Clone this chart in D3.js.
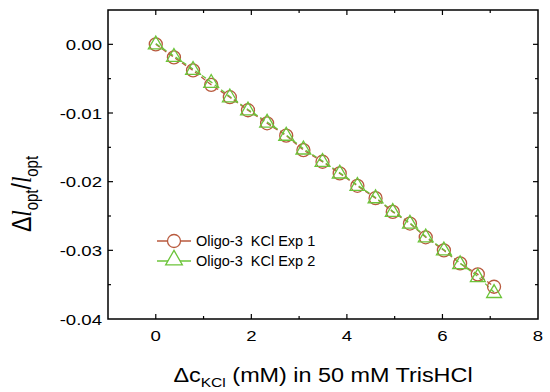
<!DOCTYPE html>
<html>
<head>
<meta charset="utf-8">
<script src="https://cdn.jsdelivr.net/npm/d3@7"></script>
<style>
  body { margin: 0; background: #fff; }
  svg { font-family: "Liberation Sans", Arial, sans-serif; }
</style>
</head>
<body>
<svg width="550" height="392"></svg>
<script>
// data
const conc = [0, 0.38, 0.78, 1.16, 1.55, 1.93, 2.33, 2.73, 3.09, 3.49,
  3.85, 4.22, 4.6, 4.96, 5.32, 5.65, 6.03, 6.37, 6.74, 7.08];
const exp1 = [0, -0.0019, -0.0038, -0.0059, -0.0077, -0.0096, -0.0115, -0.0133, -0.0154, -0.0171,
  -0.0188, -0.0206, -0.0224, -0.0244, -0.0261, -0.0281, -0.0300, -0.0319, -0.0335, -0.0353];
const exp2 = [0.0001, -0.0017, -0.0036, -0.0055, -0.0076, -0.0095, -0.0113, -0.0132, -0.0152, -0.0170,
  -0.0187, -0.0205, -0.0223, -0.0243, -0.0260, -0.0280, -0.0299, -0.0319, -0.0338, -0.0361];
const xTicks = [0, 2, 4, 6, 8];
const yTicks = [0, -0.01, -0.02, -0.03, -0.04];
const legendLabels = ["Oligo-3  KCl Exp 1", "Oligo-3  KCl Exp 2"];

const svg = d3.select("svg");
const plotL = 108, plotR = 538, plotT = 10, plotB = 319;
const stretch = 1.2; // the original text is a bit wider than it is tall

const x = d3.scaleLinear().domain([-1, 8]).range([plotL, plotR]);
const y = d3.scaleLinear().domain([0.005, -0.04]).range([plotT, plotB]);

const red = "#b85a3e", green = "#6cc43a";

// frame
svg.append("rect")
  .attr("x", plotL).attr("y", plotT)
  .attr("width", plotR - plotL).attr("height", plotB - plotT)
  .attr("fill", "none").attr("stroke", "#000").attr("stroke-width", 1.5);

// ticks on all four sides, pointing inwards
const xMinor = [1, 3, 5, 7];
const yMinor = [-0.005, -0.015, -0.025, -0.035];
const tickG = svg.append("g").attr("stroke", "#000").attr("stroke-width", 1.2);

function xTick(v, len) {
  tickG.append("line").attr("x1", x(v)).attr("x2", x(v)).attr("y1", plotB).attr("y2", plotB - len);
  tickG.append("line").attr("x1", x(v)).attr("x2", x(v)).attr("y1", plotT).attr("y2", plotT + len);
}
function yTick(v, len) {
  tickG.append("line").attr("y1", y(v)).attr("y2", y(v)).attr("x1", plotL).attr("x2", plotL + len);
  tickG.append("line").attr("y1", y(v)).attr("y2", y(v)).attr("x1", plotR).attr("x2", plotR - len);
}
xTicks.slice(0, 4).forEach((v) => xTick(v, 5));
xMinor.forEach((v) => xTick(v, 3));
yTicks.slice(0, 4).forEach((v) => yTick(v, 5));
yMinor.forEach((v) => yTick(v, 3));

// tick labels
svg.append("g").selectAll("text").data(xTicks).join("text")
  .attr("transform", (d) => `translate(${x(d)},${plotB + 22}) scale(${stretch},1)`)
  .attr("text-anchor", "middle").attr("font-size", 15.5)
  .text((d) => d);

svg.append("g").selectAll("text").data(yTicks).join("text")
  .attr("transform", (d) => `translate(${plotL - 6},${y(d) + 5.5}) scale(${stretch},1)`)
  .attr("text-anchor", "end").attr("font-size", 15.5)
  .text((d) => d3.format(".2f")(d).replace("\u2212", "-"));

// axis titles
const xt = svg.append("text")
  .attr("transform", `translate(323,382) scale(${stretch},1)`)
  .attr("text-anchor", "middle").attr("font-size", 19.5);
xt.append("tspan").text("\u0394c");
xt.append("tspan").attr("font-size", 13).attr("dy", 5).text("KCl");
xt.append("tspan").attr("dy", -5).text(" (mM) in 50 mM TrisHCl");

const yt = svg.append("text")
  .attr("transform", `translate(31,194) scale(${stretch},1) rotate(-90)`)
  .attr("text-anchor", "middle").attr("font-size", 23);
yt.append("tspan").text("\u0394");
yt.append("tspan").attr("font-style", "italic").attr("font-family", "Liberation Serif, serif").text("l");
yt.append("tspan").attr("font-size", 15).attr("dy", 6).text("opt");
yt.append("tspan").attr("dy", -6).text("/");
yt.append("tspan").attr("font-style", "italic").attr("font-family", "Liberation Serif, serif").text("l");
yt.append("tspan").attr("font-size", 15).attr("dy", 6).text("opt");

// series
const line = d3.line().x((d) => x(d[0])).y((d) => y(d[1]));
const pts1 = conc.map((c, i) => [c, exp1[i]]);
const pts2 = conc.map((c, i) => [c, exp2[i]]);
const tri = d3.symbol().type(d3.symbolTriangle).size(95);

svg.append("path").datum(pts1).attr("d", line)
  .attr("fill", "none").attr("stroke", red).attr("stroke-width", 1.3)
  .attr("stroke-dasharray", "5,3");
svg.append("path").datum(pts2).attr("d", line)
  .attr("fill", "none").attr("stroke", green).attr("stroke-width", 1.3)
  .attr("stroke-dasharray", "5,3");

svg.append("g").selectAll("circle").data(pts1).join("circle")
  .attr("cx", (d) => x(d[0])).attr("cy", (d) => y(d[1])).attr("r", 6.5)
  .attr("fill", "none").attr("stroke", red).attr("stroke-width", 1.3);
svg.append("g").selectAll("path").data(pts2).join("path")
  .attr("transform", (d) => `translate(${x(d[0])},${y(d[1]) + 1})`)
  .attr("d", tri)
  .attr("fill", "none").attr("stroke", green).attr("stroke-width", 1.3);

// legend
const legend = svg.append("g");
[red, green].forEach((col, i) => {
  const ly = 241 + i * 20;
  legend.append("line").attr("x1", 157).attr("x2", 191).attr("y1", ly).attr("y2", ly)
    .attr("stroke", col).attr("stroke-width", 1.3);
  if (i === 0) {
    legend.append("circle").attr("cx", 174).attr("cy", ly).attr("r", 6.5)
      .attr("fill", "#fff").attr("stroke", col).attr("stroke-width", 1.3);
  } else {
    legend.append("path").attr("transform", `translate(174,${ly - 1})`)
      .attr("d", d3.symbol().type(d3.symbolTriangle).size(120))
      .attr("fill", "#fff").attr("stroke", col).attr("stroke-width", 1.3);
  }
  legend.append("text").attr("x", 196).attr("y", ly + 5)
    .attr("font-size", 14.5).style("white-space", "pre")
    .text(legendLabels[i]);
});
</script>
</body>
</html>
